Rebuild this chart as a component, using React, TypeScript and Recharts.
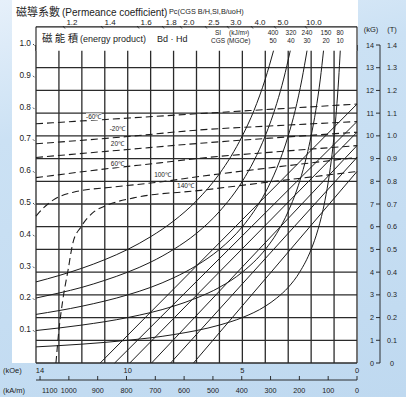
import React from "react";
import {
  ComposedChart,
  Line,
  XAxis,
  YAxis,
  CartesianGrid,
  ReferenceArea,
  ReferenceLine,
  ReferenceDot,
} from "recharts";

const ink = "#1c1c1c";
const sans = '"Liberation Sans", Arial, sans-serif';
const cjk = '"Noto Sans CJK TC", "Noto Sans CJK SC", sans-serif';

// axes (H in kOe, B in kG)
const hTicks = [0, 1, 2, 3, 4, 5, 6, 7, 8, 9, 10, 11, 12, 13, 14];
const bTicks = [0, 1, 2, 3, 4, 5, 6, 7, 8, 9, 10, 11, 12, 13, 14];
const koeLabels = [14, 10, 5, 0];
const kaTicks = [0, 100, 200, 300, 400, 500, 600, 700, 800, 900, 1000, 1100];
const hMax = 14;
const kaMax = (hMax * 1000) / (4 * Math.PI);

// permeance coefficient labels
const pcTopLabels = ["1.2", "1.4", "1.6", "1.8", "2.0", "2.5", "3.0", "4.0", "5.0", "10.0"];
const pcTopAtH = [12.43, 10.77, 9.2, 8.11, 7.33, 6.24, 5.28, 4.23, 3.23, 1.88];
const pcLeft = [0.1, 0.2, 0.3, 0.4, 0.5, 0.6, 0.7, 0.8, 0.9, 1.0];

// energy product labels
const bhSI = [400, 320, 240, 150, 80];
const bhCGS = [50, 40, 30, 20, 10];
const bhLabelAtH = [3.66, 2.88, 2.18, 1.35, 0.74];

// temperature labels [H, B]
const temps = ["-60℃", "-20℃", "20℃", "60℃", "100℃", "140℃"];
const tempLabelAt = [
  [11.48, 10.84],
  [10.45, 10.3],
  [10.45, 9.65],
  [10.45, 8.77],
  [8.48, 8.28],
  [7.48, 7.8],
];

// intrinsic curves (dashed), [H, B]
const jM60 = [[14, 10.53], [7, 10.97], [0, 11.4]];
const jM20 = [[14, 9.65], [10, 9.97], [7, 10.25], [3.5, 10.45], [0, 10.63]];
const j20 = [[14, 9.05], [10, 9.4], [7, 9.66], [3.5, 9.92], [0, 10.16]];
const j60 = [[14, 8.16], [10.5, 8.6], [8.6, 8.81], [7, 9.0], [3.5, 9.3], [0, 9.57]];
const j100 = [
  [14, 6.47], [13.65, 6.85], [13.24, 7.18], [12.37, 7.52], [10.6, 7.75],
  [8.6, 7.97], [6.8, 8.22], [3.5, 8.63], [0, 9.05],
];
const j140 = [
  [13.13, 0], [13.0, 1.45], [12.83, 2.78], [12.6, 4.1], [12.39, 5.29], [12.04, 5.99],
  [11.48, 6.65], [10.87, 6.96], [9.74, 7.27], [6.83, 7.6], [3.5, 8.01], [0, 8.43],
];

// normal curves (straight), [H, B]
const bM60 = [[11.2, 0], [0, 11.4]];
const bM20 = [[10.57, 0], [0, 10.63]];
const b20 = [[9.91, 0], [0, 10.16]];
const b60 = [[8.96, 0], [0, 9.57]];
const b100 = [[8.13, 0], [0, 9.05]];
const b140 = [[7.13, 0], [0, 8.43]];

// energy product curves, [H, B]
const bh50 = [
  [14, 3.57], [13, 3.85], [12, 4.17], [11, 4.55], [10, 5.0], [9, 5.56], [8, 6.25],
  [7, 7.14], [6, 8.33], [5.5, 9.09], [5, 10.0], [4.5, 11.1], [4, 12.5], [3.64, 13.75],
];
const bh40 = [
  [14, 2.86], [13, 3.08], [12, 3.33], [11, 3.64], [10, 4.0], [9, 4.44], [8, 5.0],
  [7, 5.71], [6, 6.67], [5, 8.0], [4.5, 8.89], [4, 10.0], [3.5, 11.43], [3.2, 12.5], [2.91, 13.75],
];
const bh30 = [
  [14, 2.14], [12, 2.5], [10, 3.0], [9, 3.33], [8, 3.75], [7, 4.29], [6, 5.0], [5, 6.0],
  [4.5, 6.67], [4, 7.5], [3.5, 8.57], [3, 10.0], [2.7, 11.1], [2.4, 12.5], [2.18, 13.75],
];
const bh20 = [
  [14, 1.43], [12, 1.67], [10, 2.0], [8, 2.5], [7, 2.86], [6, 3.33], [5, 4.0], [4, 5.0],
  [3.5, 5.71], [3, 6.67], [2.5, 8.0], [2.2, 9.09], [2, 10.0], [1.8, 11.1], [1.6, 12.5], [1.46, 13.75],
];
const bh10 = [
  [14, 0.71], [12, 0.83], [10, 1.0], [8, 1.25], [6, 1.67], [5, 2.0], [4, 2.5], [3.5, 2.86],
  [3, 3.33], [2.5, 4.0], [2, 5.0], [1.7, 5.88], [1.4, 7.14], [1.2, 8.33], [1.05, 9.52],
  [0.9, 11.1], [0.8, 12.5], [0.73, 13.75],
];

const jCurves = [jM60, jM20, j20, j60, j100, j140];
const bLines = [bM60, bM20, b20, b60, b100, b140];
const bhCurves = [bh50, bh40, bh30, bh20, bh10];

const toPts = (pts: number[][]) => pts.map(([h, b]) => ({ h, b }));
// axes that carry no series still need chart rows to get a scale
const axisRows = hTicks.map((h, i) => ({ h, b: bTicks[i] }));

const PcTopTick = (p: any) => {
  const { x, y, payload } = p;
  const label = pcTopLabels[pcTopAtH.indexOf(payload.value)];
  return (
    <g>
      <line x1={x - 9} y1={y - 19} x2={x - 7} y2={y - 16.5} stroke={ink} strokeWidth={0.8} />
      <text x={x} y={y - 20} textAnchor="middle" fontSize={8} fontFamily={sans} fill={ink}>
        {label}
      </text>
    </g>
  );
};

const PcLeftTick = (p: any) => {
  const { x, y, payload } = p;
  return (
    <g>
      <line x1={x - 3} y1={y - 1} x2={x - 1.5} y2={y + 0.5} stroke={ink} strokeWidth={0.8} />
      <text x={x - 5} y={y + 1} textAnchor="end" fontSize={8.3} fontFamily={sans} fill={ink}>
        {(payload.value / 14).toFixed(1)}
      </text>
    </g>
  );
};

const KgTick = (p: any) => {
  const { x, y, payload } = p;
  const v = payload.value;
  return (
    <g>
      <line x1={x - 4} y1={y} x2={x} y2={y} stroke={ink} strokeWidth={0.9} />
      <text x={x - 6} y={y + 2.5} textAnchor="end" fontSize={7.2} fontFamily={sans} fill={ink}>
        {v}
      </text>
      <text x={x + 12} y={y + 2.5} textAnchor="middle" fontSize={7.2} fontFamily={sans} fill={ink}>
        {v === 0 ? "0" : (v / 10).toFixed(1)}
      </text>
    </g>
  );
};

const KoeTick = (p: any) => {
  const { x, y, payload } = p;
  if (!koeLabels.includes(payload.value)) return <g />;
  return (
    <text
      x={x + (payload.value === 14 ? 4 : 0)}
      y={y + 9.5}
      textAnchor="middle"
      fontSize={7.5}
      fontFamily={sans}
      fill={ink}
    >
      {payload.value}
    </text>
  );
};

const KaTick = (p: any) => {
  const { x, y, payload } = p;
  const first = payload.value === 1100;
  return (
    <g>
      <line x1={x} y1={y} x2={x} y2={y - 4} stroke={ink} strokeWidth={0.9} />
      <text
        x={first ? x + 2 : x}
        y={y + 12.5}
        textAnchor={first ? "start" : "middle"}
        fontSize={7.2}
        fontFamily={sans}
        fill={ink}
      >
        {payload.value}
      </text>
    </g>
  );
};

const tempShape = (text: string) => (p: any) => {
  const { cx, cy } = p;
  const w = text.length * 3.4 + 2;
  return (
    <g>
      <rect x={cx - w / 2} y={cy - 3.5} width={w} height={7} fill="#fff" />
      <text x={cx} y={cy + 2.3} textAnchor="middle" fontSize={6.5} fontFamily={sans} fill={ink}>
        {text}
      </text>
    </g>
  );
};

const bhShape = (si: number, cgs: number) => (p: any) => {
  const { cx, cy } = p;
  return (
    <g>
      <text x={cx} y={cy - 1.7} textAnchor="middle" fontSize={6.5} fontFamily={sans} fill={ink}>
        {si}
      </text>
      <text x={cx} y={cy + 6.3} textAnchor="middle" fontSize={6.5} fontFamily={sans} fill={ink}>
        {cgs}
      </text>
    </g>
  );
};

export default function App() {
  return (
    <div
      style={{
        position: "fixed",
        left: 0,
        top: 0,
        width: 406,
        height: 397,
        overflow: "hidden",
        background: "linear-gradient(165deg, #e6f0fa 0%, #cbe1f4 28%, #bfd9f0 100%)",
      }}
    >
      <div style={{ position: "absolute", left: 12, top: 0, width: 346, height: 363, background: "#fff" }} />
      <div style={{ position: "absolute", left: 0, top: 0 }}>
        <ComposedChart
          width={406}
          height={397}
          data={axisRows}
          margin={{ top: 0, right: 0, bottom: 0, left: 0 }}
        >
          <CartesianGrid xAxisId="h" yAxisId="kg" stroke="#2b2b2b" strokeWidth={1.3} />
          <XAxis
            xAxisId="pc"
            orientation="top"
            type="number"
            dataKey="h"
            domain={[0, 14]}
            reversed
            height={45}
            ticks={pcTopAtH}
            interval={0}
            tick={PcTopTick}
            axisLine={false}
            tickLine={false}
            tickSize={0}
            tickMargin={0}
          />
          <XAxis
            xAxisId="h"
            dataKey="h"
            type="number"
            domain={[0, 14]}
            reversed
            height={17}
            ticks={hTicks}
            interval={0}
            tick={KoeTick}
            axisLine={false}
            tickLine={false}
            tickSize={0}
            tickMargin={0}
          />
          <XAxis
            xAxisId="ka"
            type="number"
            dataKey="h"
            domain={[0, kaMax]}
            allowDataOverflow
            reversed
            height={17}
            ticks={kaTicks}
            interval={0}
            tick={KaTick}
            axisLine={{ stroke: ink, strokeWidth: 0.9 }}
            tickLine={false}
            tickSize={0}
            tickMargin={0}
          />
          <YAxis
            yAxisId="pcl"
            dataKey="b"
            type="number"
            domain={[0, 14]}
            width={36}
            ticks={pcLeft.map((v) => v * 14)}
            interval={0}
            tick={PcLeftTick}
            axisLine={false}
            tickLine={false}
            tickSize={0}
            tickMargin={0}
          />
          <YAxis
            yAxisId="gap"
            orientation="right"
            dataKey="b"
            type="number"
            domain={[0, 14]}
            width={23}
            tick={false}
            axisLine={false}
            tickLine={false}
          />
          <YAxis
            yAxisId="kg"
            orientation="right"
            dataKey="b"
            type="number"
            domain={[0, 14]}
            width={26}
            ticks={bTicks}
            interval={0}
            tick={KgTick}
            axisLine={{ stroke: ink, strokeWidth: 0.9 }}
            tickLine={false}
            tickSize={0}
            tickMargin={0}
          />

          {bhCurves.map((c, i) => (
            <Line
              key={"bh" + i}
              xAxisId="h"
              yAxisId="kg"
              data={toPts(c)}
              dataKey="b"
              type="monotone"
              stroke={ink}
              strokeWidth={1}
              dot={false}
              activeDot={false}
              isAnimationActive={false}
            />
          ))}
          {bLines.map((c, i) => (
            <Line
              key={"bl" + i}
              xAxisId="h"
              yAxisId="kg"
              data={toPts(c)}
              dataKey="b"
              type="linear"
              stroke={ink}
              strokeWidth={1}
              dot={false}
              activeDot={false}
              isAnimationActive={false}
            />
          ))}
          {jCurves.map((c, i) => (
            <Line
              key={"j" + i}
              xAxisId="h"
              yAxisId="kg"
              data={toPts(c)}
              dataKey="b"
              type="monotone"
              stroke={ink}
              strokeWidth={1.1}
              strokeDasharray="7 4"
              dot={false}
              activeDot={false}
              isAnimationActive={false}
            />
          ))}

          <ReferenceArea
            xAxisId="h"
            yAxisId="kg"
            x1={0}
            x2={14}
            y1={13.75}
            y2={14.8}
            ifOverflow="visible"
            fill="#fff"
            fillOpacity={1}
            stroke="none"
          />
          <ReferenceLine xAxisId="h" yAxisId="kg" y={14.8} ifOverflow="visible" stroke={ink} strokeWidth={1.1} />
          <ReferenceLine
            xAxisId="h"
            yAxisId="kg"
            ifOverflow="visible"
            segment={[{ x: 14, y: 13.75 }, { x: 14, y: 14.8 }]}
            stroke={ink}
            strokeWidth={1.1}
          />
          <ReferenceLine
            xAxisId="h"
            yAxisId="kg"
            ifOverflow="visible"
            segment={[{ x: 0, y: 13.75 }, { x: 0, y: 14.8 }]}
            stroke={ink}
            strokeWidth={1.1}
          />

          {bhSI.map((si, i) => (
            <ReferenceDot
              key={"bhl" + i}
              xAxisId="h"
              yAxisId="kg"
              x={bhLabelAtH[i]}
              y={14.36}
              r={0}
              ifOverflow="visible"
              shape={bhShape(si, bhCGS[i])}
            />
          ))}
          {temps.map((t, i) => (
            <ReferenceDot
              key={"t" + i}
              xAxisId="h"
              yAxisId="kg"
              x={tempLabelAt[i][0]}
              y={tempLabelAt[i][1]}
              r={0}
              ifOverflow="visible"
              shape={tempShape(t)}
            />
          ))}
        </ComposedChart>
      </div>
      <svg
        width={406}
        height={397}
        style={{ position: "absolute", left: 0, top: 0, pointerEvents: "none" }}
      >
        <text x={16} y={15.5} fontSize={11} fontFamily={cjk} fill={ink}>
          磁導系數
        </text>
        <text x={62} y={15.5} fontSize={10} fontFamily={sans} fill={ink}>
          (Permeance coefficient)
        </text>
        <text x={169} y={14} fontSize={7.3} fontFamily={sans} fill={ink}>
          Pc(CGS B/H,SI,B/uoH)
        </text>
        <text x={42} y={42} fontSize={10.5} fontFamily={cjk} fill={ink}>
          磁 能 積
        </text>
        <text x={80} y={41.5} fontSize={9} fontFamily={sans} fill={ink}>
          (energy product)
        </text>
        <text x={157} y={41.5} fontSize={9} fontFamily={sans} fill={ink}>
          Bd · Hd
        </text>
        <text x={215} y={35} fontSize={6.5} fontFamily={sans} fill={ink}>
          SI
        </text>
        <text x={229} y={35} fontSize={6.5} fontFamily={sans} fill={ink}>
          (kJ/m³)
        </text>
        <text x={211} y={43} fontSize={6.5} fontFamily={sans} fill={ink}>
          CGS (MGOe)
        </text>
        <text x={371} y={32} textAnchor="middle" fontSize={7.5} fontFamily={sans} fill={ink}>
          (kG)
        </text>
        <text x={392} y={32} textAnchor="middle" fontSize={7.5} fontFamily={sans} fill={ink}>
          (T)
        </text>
        <text x={3} y={372.5} fontSize={7.5} fontFamily={sans} fill={ink}>
          (kOe)
        </text>
        <text x={3} y={392.5} fontSize={7.5} fontFamily={sans} fill={ink}>
          (kA/m)
        </text>
      </svg>
    </div>
  );
}
